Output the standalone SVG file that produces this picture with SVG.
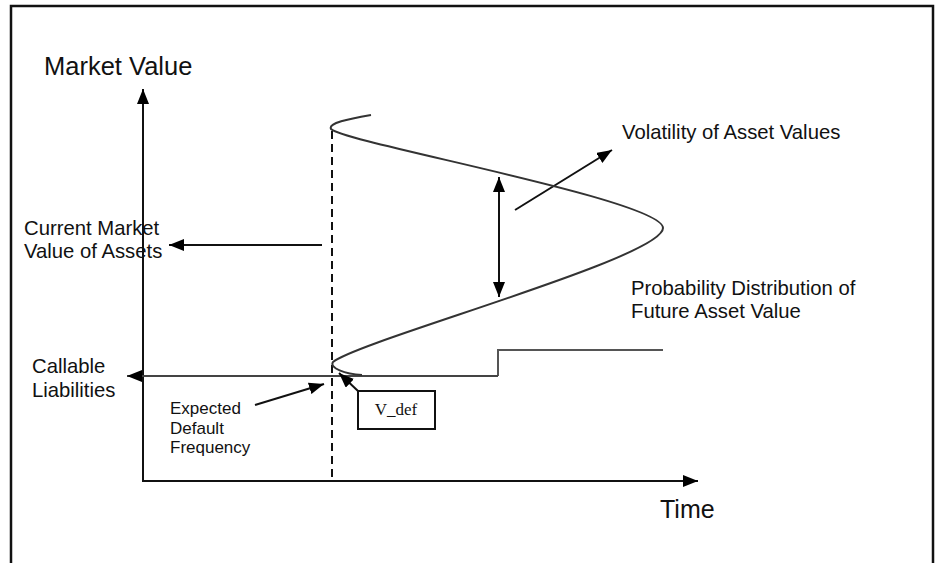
<svg xmlns="http://www.w3.org/2000/svg" width="937" height="563" viewBox="0 0 937 563">
<style>
.t{font-family:"Liberation Sans",Arial,sans-serif;fill:#111}
.ln{stroke:#111;stroke-width:2;fill:none}
.cv{stroke:#333;stroke-width:2;fill:none}
</style>
<defs>
<marker id="ah" markerUnits="userSpaceOnUse" markerWidth="15" markerHeight="12" refX="15" refY="6" orient="auto-start-reverse">
<path d="M0,0 L15,6 L0,12 z" fill="#000"/>
</marker>
</defs>
<rect x="0" y="0" width="937" height="563" fill="#fff"/>
<rect id="frame" x="11" y="6" width="922" height="600" fill="none" stroke="#111" stroke-width="2.5"/>
<g id="connectors">
<line class="ln" x1="143" y1="482" x2="143" y2="89" marker-end="url(#ah)"/>
<line class="ln" x1="143" y1="481" x2="698" y2="481" marker-end="url(#ah)"/>
<line x1="332" y1="131" x2="332" y2="481" stroke="#111" stroke-width="2" stroke-dasharray="8,5"/>
<line class="ln" x1="322" y1="245" x2="169" y2="245" marker-end="url(#ah)"/>
<polyline points="498,376 498,350 663,350" fill="none" stroke="#555" stroke-width="2"/>
<line x1="498" y1="376" x2="127" y2="376" stroke="#444" stroke-width="2" marker-end="url(#ah)"/>
<line class="ln" x1="255" y1="405" x2="324" y2="384" marker-end="url(#ah)"/>
<line class="ln" x1="358" y1="391" x2="339" y2="373" marker-end="url(#ah)"/>
<line class="ln" x1="499" y1="297" x2="499" y2="177" marker-start="url(#ah)" marker-end="url(#ah)"/>
<line class="ln" x1="515" y1="210" x2="612" y2="150" marker-end="url(#ah)"/>
</g>
<g id="distribution">
<path class="cv" d="M371,115 C348,119 328,123 331,129 C345,143 663,200 663,228 C663,258 360,340 333,362 C329,368 345,374 362,375"/>
</g>
<g id="vdef">
<rect x="358" y="391" width="77" height="38" fill="#fff" stroke="#111" stroke-width="2"/>
<text x="396" y="415" text-anchor="middle" font-family="'Liberation Serif','Times New Roman',serif" font-size="17" fill="#111">V_def</text>
</g>
<g id="labels">
<text class="t" x="44" y="75" font-size="25.5">Market Value</text>
<text class="t" x="660" y="518" font-size="25">Time</text>
<text class="t" x="622" y="139" font-size="20.3">Volatility of Asset Values</text>
<text class="t" x="24" y="235" font-size="20.3">Current Market</text>
<text class="t" x="24" y="258" font-size="20.3">Value of Assets</text>
<text class="t" x="631" y="295" font-size="20.3">Probability Distribution of</text>
<text class="t" x="631" y="318" font-size="20.3">Future Asset Value</text>
<text class="t" x="32" y="373" font-size="20.3">Callable</text>
<text class="t" x="32" y="397" font-size="20.3">Liabilities</text>
<text class="t" x="170" y="414" font-size="17">Expected</text>
<text class="t" x="170" y="434" font-size="17">Default</text>
<text class="t" x="170" y="453" font-size="17">Frequency</text>
</g>
</svg>
